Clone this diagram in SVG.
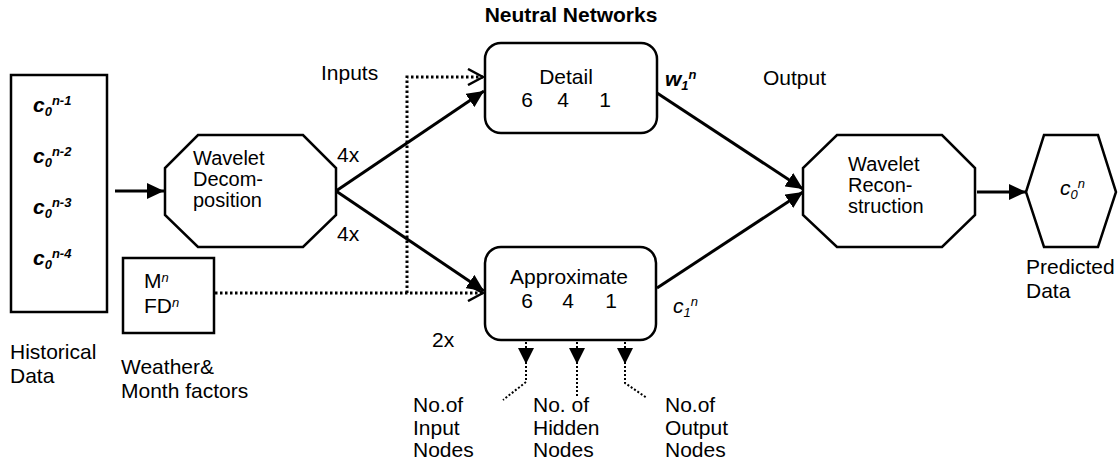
<svg xmlns="http://www.w3.org/2000/svg" width="1118" height="465" viewBox="0 0 1118 465">
<style>
text{font-family:"Liberation Sans",Arial,Helvetica,sans-serif;font-size:21px;fill:#000}
.b{font-weight:bold}
.i{font-style:italic}
.sm{font-size:13px}
.oct{font-size:20px}
.shape{fill:#fff;stroke:#000;stroke-width:2.5}
.solid{fill:none;stroke:#000;stroke-width:3}
.dot{fill:none;stroke:#000;stroke-width:3;stroke-dasharray:2.5 2.5}
.fine{fill:none;stroke:#000;stroke-width:2;stroke-dasharray:2 2}
</style>
<defs>
<marker id="arr" markerUnits="userSpaceOnUse" markerWidth="18" markerHeight="16" refX="17" refY="8" orient="auto">
<path d="M0,0 L17,8 L0,16 z" fill="#000"/>
</marker>
<marker id="open" markerUnits="userSpaceOnUse" markerWidth="18" markerHeight="18" refX="16" refY="9" orient="auto">
<path d="M1,1 L16,9 L1,17" fill="none" stroke="#000" stroke-width="2.5"/>
</marker>
</defs>

<text id="title" class="b" x="571" y="22" text-anchor="middle" font-size="17">Neutral Networks</text>

<g id="historical">
<rect class="shape" x="11" y="75" width="96" height="237"/>
<text class="i b" x="33" y="112" font-size="19">c<tspan class="sm" dy="4">0</tspan><tspan class="sm" dy="-11">n-1</tspan></text>
<text class="i b" x="33" y="163" font-size="19">c<tspan class="sm" dy="4">0</tspan><tspan class="sm" dy="-11">n-2</tspan></text>
<text class="i b" x="33" y="214" font-size="19">c<tspan class="sm" dy="4">0</tspan><tspan class="sm" dy="-11">n-3</tspan></text>
<text class="i b" x="33" y="265" font-size="19">c<tspan class="sm" dy="4">0</tspan><tspan class="sm" dy="-11">n-4</tspan></text>
<text x="10" y="359">Historical</text>
<text x="10" y="383">Data</text>
</g>

<g id="weather">
<rect class="shape" x="123" y="258" width="91" height="75"/>
<text x="144" y="288">M<tspan class="i sm" dy="-6">n</tspan></text>
<text x="144" y="313">FD<tspan class="i sm" dy="-6">n</tspan></text>
<text x="121" y="374">Weather&amp;</text>
<text x="121" y="398">Month factors</text>
</g>

<g id="decomposition">
<polygon class="shape" points="198,135 303,135 336,168 336,215 303,247 198,247 165,215 165,168"/>
<text class="oct" x="193" y="165">Wavelet</text>
<text class="oct" x="193" y="186">Decom-</text>
<text class="oct" x="193" y="207">position</text>
</g>

<g id="detail">
<rect class="shape" x="485" y="43" width="172" height="90" rx="16" ry="16"/>
<text x="566" y="84" text-anchor="middle">Detail</text>
<text x="527" y="107" text-anchor="middle">6</text>
<text x="563" y="107" text-anchor="middle">4</text>
<text x="605" y="107" text-anchor="middle">1</text>
</g>

<g id="approximate">
<rect class="shape" x="485" y="247" width="171" height="93" rx="16" ry="16"/>
<text x="569" y="284" text-anchor="middle">Approximate</text>
<text x="527" y="308" text-anchor="middle">6</text>
<text x="568" y="308" text-anchor="middle">4</text>
<text x="611" y="308" text-anchor="middle">1</text>
</g>

<g id="reconstruction">
<polygon class="shape" points="837,135 942,135 975,168 975,215 942,247 837,247 803,215 803,168"/>
<text class="oct" x="848" y="171">Wavelet</text>
<text class="oct" x="848" y="192">Recon-</text>
<text class="oct" x="848" y="213">struction</text>
</g>

<g id="predicted">
<polygon class="shape" points="1026,192 1044,135 1098,135 1116,192 1098,247 1044,247"/>
<text class="i" x="1060" y="195" font-size="20">c<tspan class="sm" dy="4">0</tspan><tspan class="sm" dy="-11">n</tspan></text>
<text x="1026" y="274">Predicted</text>
<text x="1026" y="298">Data</text>
</g>

<g id="connectors">
<line class="solid" x1="115" y1="191" x2="164" y2="191" marker-end="url(#arr)"/>
<line class="solid" x1="336" y1="191" x2="484" y2="91" marker-end="url(#arr)"/>
<line class="solid" x1="336" y1="191" x2="484" y2="291" marker-end="url(#arr)"/>
<line class="solid" x1="657" y1="93" x2="803" y2="189" marker-end="url(#arr)"/>
<line class="solid" x1="657" y1="288" x2="803" y2="192" marker-end="url(#arr)"/>
<line class="solid" x1="977" y1="192" x2="1026" y2="192" marker-end="url(#arr)"/>
<path class="dot" d="M215,293 L483,293" marker-end="url(#open)"/>
<path class="dot" d="M407,293 L407,77 L483,77" marker-end="url(#open)"/>
<path class="fine" d="M526,342 L526,382 L503,400"/>
<polygon points="518,348 534,348 526,364" fill="#000"/>
<path class="fine" d="M577,342 L577,398"/>
<polygon points="569,348 585,348 577,364" fill="#000"/>
<path class="fine" d="M625,342 L625,383 L647,398"/>
<polygon points="617,348 633,348 625,364" fill="#000"/>
</g>

<g id="labels">
<text x="321" y="80">Inputs</text>
<text x="337" y="162">4x</text>
<text x="337" y="241">4x</text>
<text x="432" y="347">2x</text>
<text class="i b" x="665" y="86" font-size="19">w<tspan class="sm" dy="4">1</tspan><tspan class="sm" dy="-11">n</tspan></text>
<text x="763" y="85">Output</text>
<text class="i" x="673" y="313" font-size="20">c<tspan class="sm" dy="4">1</tspan><tspan class="sm" dy="-11">n</tspan></text>
<text x="413" y="412">No.of</text>
<text x="413" y="435">Input</text>
<text x="413" y="457">Nodes</text>
<text x="533" y="412">No. of</text>
<text x="533" y="435">Hidden</text>
<text x="533" y="457">Nodes</text>
<text x="665" y="412">No.of</text>
<text x="665" y="435">Output</text>
<text x="665" y="457">Nodes</text>
</g>
</svg>
